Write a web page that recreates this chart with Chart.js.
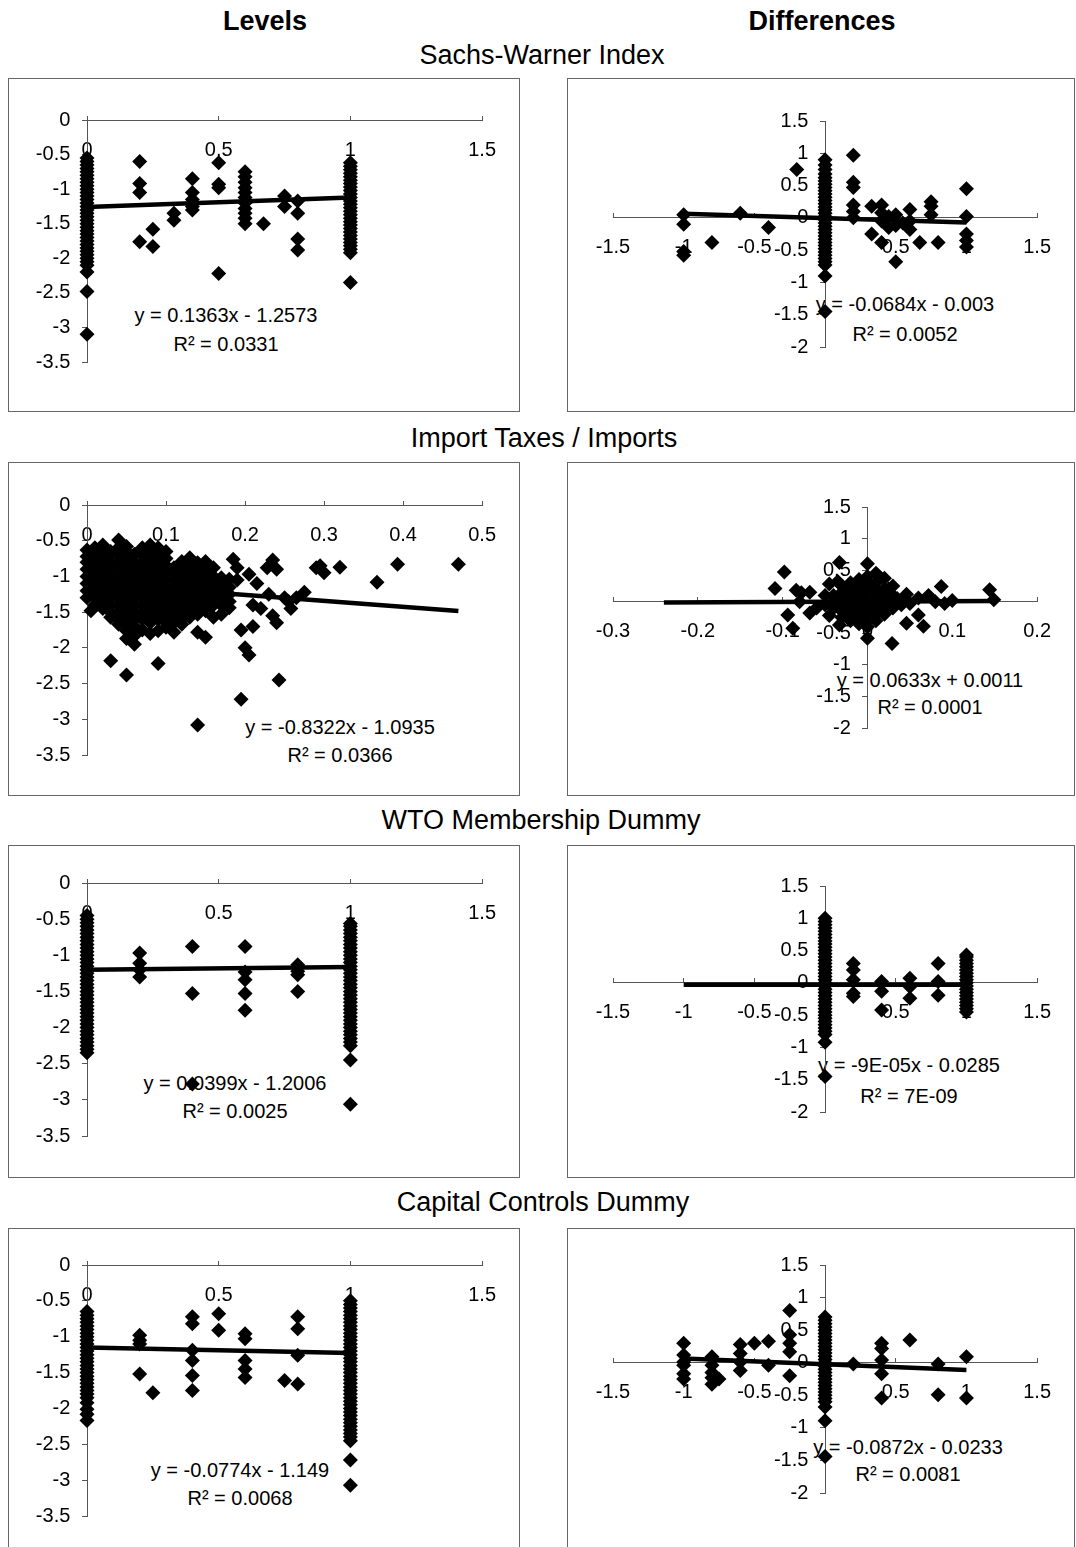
<!DOCTYPE html>
<html>
<head>
<meta charset="utf-8">
<title>Levels and Differences</title>
<script src="https://cdn.jsdelivr.net/npm/chart.js@4.4.0/dist/chart.umd.min.js"></script>
<style>
  html, body { margin: 0; padding: 0; background: #fff; }
  body { width: 1076px; height: 1547px; position: relative; overflow: hidden;
         font-family: "Liberation Sans", Arial, sans-serif; color: #000; }
  .head { position: absolute; font-weight: bold; font-size: 27px; transform: translate(-50%, -50%); white-space: nowrap; }
  .title { position: absolute; font-size: 27px; transform: translate(-50%, -50%); white-space: nowrap; }
  .eq { position: absolute; font-size: 20px; transform: translate(-50%, -50%); white-space: nowrap; }
  .box { position: absolute; border: 1px solid #666; box-sizing: border-box; }
  .box canvas { position: absolute; left: 0; top: 0; }
</style>
</head>
<body>
<script>
// ---- 数据: 每列 [x, [y...]] ----

// Sachs-Warner Index, levels
const swLevelsCols = [
  [0, [-0.55,-0.6,-0.65,-0.7,-0.75,-0.8,-0.85,-0.9,-0.95,-1,-1.05,-1.1,-1.15,-1.2,-1.25,-1.3,-1.35,-1.4,-1.45,-1.5,-1.55,-1.6,-1.65,-1.7,-1.75,-1.8,-1.85,-1.9,-1.95,-2,-2.05,-2.1,-2.2,-2.48,-3.1]],
  [0.2, [-0.6,-0.92,-1.05,-1.76]],
  [0.25, [-1.58,-1.83]],
  [0.33, [-1.35,-1.45]],
  [0.4, [-0.85,-1.05,-1.15,-1.25,-1.3]],
  [0.5, [-0.62,-0.93,-0.98,-2.22]],
  [0.6, [-0.75,-0.82,-0.9,-0.98,-1.05,-1.12,-1.2,-1.28,-1.35,-1.42,-1.5]],
  [0.67, [-1.5]],
  [0.75, [-1.1,-1.25]],
  [0.8, [-1.17,-1.35,-1.72,-1.88]],
  [1, [-0.62,-0.67,-0.72,-0.77,-0.82,-0.87,-0.92,-0.97,-1.02,-1.07,-1.12,-1.17,-1.22,-1.27,-1.32,-1.37,-1.42,-1.47,-1.52,-1.57,-1.62,-1.67,-1.72,-1.77,-1.82,-1.87,-1.92,-2.35]]
];
const swLevelsFit = [0.1363, -1.2573];
const swLevelsRange = [0, 1];

// Sachs-Warner Index, differences
const swDiffCols = [
  [-1, [0.05,-0.1,-0.52,-0.58]],
  [-0.8, [-0.38]],
  [-0.6, [0.07]],
  [-0.4, [-0.15]],
  [-0.2, [0.75]],
  [0, [0.9,0.82,0.75,0.68,0.62,0.57,0.52,0.47,0.42,0.37,0.32,0.27,0.22,0.17,0.12,0.07,0.02,-0.03,-0.08,-0.13,-0.18,-0.23,-0.28,-0.33,-0.38,-0.43,-0.48,-0.53,-0.58,-0.63,-0.68,-0.73,-0.9,-1.45]],
  [0.2, [0.97,0.55,0.47,0.2,0.1,0]],
  [0.33, [0.18,-0.25]],
  [0.4, [0.2,0.08,-0.05,-0.38]],
  [0.45, [0.02,-0.15]],
  [0.5, [0.05,-0.12,-0.68]],
  [0.55, [-0.08]],
  [0.6, [0.13,-0.05,-0.18]],
  [0.67, [-0.38]],
  [0.75, [0.25,0.18,0.05]],
  [0.8, [-0.38]],
  [1, [0.45,0.02,-0.25,-0.35,-0.45]]
];
const swDiffFit = [-0.0684, -0.003];
const swDiffRange = [-1, 1];

// Import Taxes / Imports, levels
const taxLevelsCols = [
  [0, [-0.63,-0.72,-0.8,-0.9,-1,-1.1,-1.2,-1.3]],
  [0.005, [-0.68,-0.85,-1.05,-1.25,-1.48]],
  [0.01, [-0.6,-0.7,-0.8,-0.9,-1,-1.1,-1.2,-1.3,-1.4]],
  [0.02, [-0.56,-0.65,-0.75,-0.85,-0.95,-1.05,-1.15,-1.25,-1.35,-1.45]],
  [0.03, [-0.65,-0.7,-0.8,-0.9,-1,-1.1,-1.2,-1.3,-1.4,-1.5,-1.57,-2.18]],
  [0.04, [-0.49,-0.6,-0.7,-0.8,-0.9,-1,-1.1,-1.2,-1.3,-1.4,-1.5,-1.6,-1.67]],
  [0.05, [-0.58,-0.65,-0.75,-0.85,-0.95,-1.05,-1.15,-1.25,-1.35,-1.45,-1.55,-1.65,-1.76,-1.87,-2.38]],
  [0.06, [-0.69,-0.8,-0.9,-1,-1.1,-1.2,-1.3,-1.4,-1.5,-1.6,-1.7,-1.83,-1.95]],
  [0.07, [-0.6,-0.7,-0.8,-0.9,-1,-1.1,-1.2,-1.3,-1.4,-1.5,-1.6,-1.75]],
  [0.08, [-0.56,-0.65,-0.75,-0.85,-0.95,-1.05,-1.15,-1.25,-1.35,-1.45,-1.55,-1.65,-1.8]],
  [0.09, [-0.6,-0.7,-0.8,-0.9,-1,-1.1,-1.2,-1.3,-1.4,-1.5,-1.6,-1.76,-2.22]],
  [0.1, [-0.65,-0.75,-0.85,-0.95,-1.05,-1.15,-1.25,-1.35,-1.45,-1.55,-1.65,-1.71]],
  [0.11, [-0.88,-0.95,-1.05,-1.15,-1.25,-1.35,-1.45,-1.55,-1.65,-1.78]],
  [0.12, [-0.79,-0.9,-1,-1.1,-1.2,-1.3,-1.4,-1.5,-1.6,-1.67]],
  [0.13, [-0.74,-0.85,-0.95,-1.05,-1.15,-1.25,-1.35,-1.45,-1.57]],
  [0.14, [-0.81,-0.9,-1,-1.1,-1.2,-1.3,-1.4,-1.53,-1.78,-3.08]],
  [0.15, [-0.79,-0.85,-0.95,-1.05,-1.15,-1.25,-1.35,-1.48,-1.85]],
  [0.16, [-0.88,-1,-1.1,-1.2,-1.3,-1.4,-1.57]],
  [0.17, [-1.02,-1.1,-1.2,-1.3,-1.4,-1.53]],
  [0.18, [-1.04,-1.15,-1.25,-1.35,-1.44]]
];
const taxLevelsExtra = [
  [0.185,-0.76],[0.19,-0.88],[0.19,-1.05],[0.195,-1.75],[0.2,-2],[0.205,-2.1],[0.195,-2.72],
  [0.205,-0.97],[0.21,-1.7],[0.215,-1.1],[0.21,-1.4],[0.22,-1.45],[0.228,-0.88],[0.235,-0.77],
  [0.24,-0.9],[0.23,-1.25],[0.235,-1.55],[0.24,-1.65],[0.243,-2.45],[0.25,-1.3],[0.255,-1.35],
  [0.258,-1.45],[0.265,-1.3],[0.275,-1.22],[0.29,-0.88],[0.295,-0.85],[0.3,-0.95],[0.32,-0.87],
  [0.367,-1.08],[0.393,-0.83],[0.47,-0.83]
];
const taxLevelsFit = [-0.8322, -1.0935];
const taxLevelsRange = [0, 0.47];

// Import Taxes / Imports, differences
const taxDiffCols = [
  [-0.04, [-0.1,0,0.1]],
  [-0.03, [-0.25,-0.15,-0.05,0.05,0.15,0.25]],
  [-0.02, [-0.3,-0.2,-0.1,0,0.1,0.2,0.3]],
  [-0.01, [-0.35,-0.25,-0.15,-0.05,0.05,0.15,0.25,0.35]],
  [0, [-0.58,-0.4,-0.3,-0.2,-0.1,0,0.1,0.2,0.3,0.4,0.6]],
  [0.01, [-0.3,-0.2,-0.1,0,0.1,0.2,0.3,0.45]],
  [0.02, [-0.2,-0.1,0,0.1,0.2,0.37]],
  [0.03, [-0.1,0,0.1,0.25]]
];
const taxDiffExtra = [
  [-0.109,0.21],[-0.098,0.47],[-0.084,0.18],[-0.078,0.14],[-0.068,0.15],[-0.094,-0.21],[-0.088,-0.42],
  [-0.068,-0.18],[-0.06,-0.1],[-0.05,0.1],[-0.045,0.28],[-0.035,0.32],[-0.033,0.62],[-0.045,-0.22],
  [-0.033,-0.37],[-0.08,0],[-0.05,-0.05],[0.012,0.42],[0.025,0.2],[0.035,0.05],[0.04,-0.05],
  [0.046,0.12],[0.05,-0.03],[0.06,0.06],[0.029,-0.66],[0.046,-0.34],[0.066,-0.39],[0.06,-0.21],
  [0.072,0.1],[0.087,0.24],[0.091,-0.03],[0.08,0],[0.1,0.02],[0.144,0.19],[0.149,0.03]
];
const taxDiffFit = [0.0633, 0.0011];
const taxDiffRange = [-0.24, 0.15];

// WTO Membership Dummy, levels
const wtoLevelsCols = [
  [0, [-0.45,-0.5,-0.55,-0.6,-0.65,-0.7,-0.75,-0.8,-0.85,-0.9,-0.95,-1,-1.05,-1.1,-1.15,-1.2,-1.25,-1.3,-1.35,-1.4,-1.45,-1.5,-1.55,-1.6,-1.65,-1.7,-1.75,-1.8,-1.85,-1.9,-1.95,-2,-2.05,-2.1,-2.15,-2.2,-2.25,-2.3,-2.35]],
  [0.2, [-0.97,-1.11,-1.2,-1.3]],
  [0.4, [-0.88,-1.53,-2.78]],
  [0.6, [-0.88,-1.23,-1.34,-1.53,-1.76]],
  [0.8, [-1.13,-1.22,-1.27,-1.5]],
  [1, [-0.56,-0.6,-0.65,-0.7,-0.75,-0.8,-0.85,-0.9,-0.95,-1,-1.05,-1.1,-1.15,-1.2,-1.25,-1.3,-1.35,-1.4,-1.45,-1.5,-1.55,-1.6,-1.65,-1.7,-1.75,-1.8,-1.85,-1.9,-1.95,-2,-2.05,-2.1,-2.15,-2.2,-2.25,-2.45,-3.06]]
];
const wtoLevelsFit = [0.0399, -1.2006];
const wtoLevelsRange = [0, 1];

// WTO Membership Dummy, differences
const wtoDiffCols = [
  [0, [1,0.95,0.9,0.85,0.8,0.75,0.7,0.65,0.6,0.55,0.5,0.45,0.4,0.35,0.3,0.25,0.2,0.15,0.1,0.05,0,-0.05,-0.1,-0.15,-0.2,-0.25,-0.3,-0.35,-0.4,-0.45,-0.5,-0.55,-0.6,-0.65,-0.7,-0.75,-0.8,-0.92,-1.45]],
  [0.2, [0.3,0.2,0.05,-0.16,-0.21]],
  [0.4, [0.02,-0.13,-0.42]],
  [0.6, [0.07,-0.06,-0.24]],
  [0.8, [0.3,0.02,-0.19]],
  [1, [0.43,0.4,0.35,0.3,0.25,0.2,0.15,0.1,0.05,0,-0.05,-0.1,-0.15,-0.2,-0.25,-0.3,-0.35,-0.4,-0.45]]
];
const wtoDiffFit = [-0.00009, -0.0285];
const wtoDiffRange = [-1, 1];

// Capital Controls Dummy, levels
const capLevelsCols = [
  [0, [-0.65,-0.7,-0.75,-0.8,-0.85,-0.9,-0.95,-1,-1.05,-1.1,-1.15,-1.2,-1.25,-1.3,-1.35,-1.4,-1.45,-1.5,-1.55,-1.6,-1.65,-1.7,-1.75,-1.8,-1.85,-1.92,-2.01,-2.08,-2.17]],
  [0.2, [-0.98,-1.05,-1.1,-1.52]],
  [0.25, [-1.78]],
  [0.4, [-0.72,-0.82,-1.19,-1.33,-1.54,-1.75]],
  [0.5, [-0.68,-0.91]],
  [0.6, [-0.96,-1.03,-1.33,-1.45,-1.57]],
  [0.75, [-1.61]],
  [0.8, [-0.72,-0.89,-1.26,-1.66]],
  [1, [-0.5,-0.55,-0.6,-0.65,-0.7,-0.75,-0.8,-0.85,-0.9,-0.95,-1,-1.05,-1.1,-1.15,-1.2,-1.25,-1.3,-1.35,-1.4,-1.45,-1.5,-1.55,-1.6,-1.65,-1.7,-1.75,-1.8,-1.85,-1.9,-1.95,-2,-2.05,-2.1,-2.15,-2.2,-2.25,-2.3,-2.35,-2.4,-2.45,-2.72,-3.07]]
];
const capLevelsFit = [-0.0774, -1.149];
const capLevelsRange = [0, 1];

// Capital Controls Dummy, differences
const capDiffCols = [
  [-1, [0.3,0.12,0.01,-0.04,-0.17,-0.25]],
  [-0.8, [0.09,-0.04,-0.15,-0.23,-0.33]],
  [-0.75, [-0.25]],
  [-0.6, [0.28,0.14,0.01,-0.12]],
  [-0.5, [0.3]],
  [-0.4, [0.33,-0.04]],
  [-0.25, [0.8,0.43,0.3,0.17,-0.2]],
  [0, [0.7,0.65,0.6,0.55,0.5,0.45,0.4,0.35,0.3,0.25,0.2,0.15,0.1,0.05,0,-0.05,-0.1,-0.15,-0.2,-0.25,-0.3,-0.35,-0.4,-0.45,-0.5,-0.55,-0.6,-0.68,-0.89,-1.44]],
  [0.2, [-0.02]],
  [0.4, [0.3,0.22,0.04,-0.17,-0.54]],
  [0.6, [0.35]],
  [0.8, [-0.02,-0.49]],
  [1, [0.09,-0.54]]
];
const capDiffFit = [-0.0872, -0.0233];
const capDiffRange = [-1, 1];

// 标题与方程文本
const columnHeads = ['Levels', 'Differences'];
const sectionTitles = ['Sachs-Warner Index', 'Import Taxes / Imports', 'WTO Membership Dummy', 'Capital Controls Dummy'];
const fitEquations = [
  'y = 0.1363x - 1.2573', 'y = -0.0684x - 0.003',
  'y = -0.8322x - 1.0935', 'y = 0.0633x + 0.0011',
  'y = 0.0399x - 1.2006', 'y = -9E-05x - 0.0285',
  'y = -0.0774x - 1.149', 'y = -0.0872x - 0.0233'
];
const fitR2 = ['0.0331', '0.0052', '0.0366', '0.0001', '0.0025', '7E-09', '0.0068', '0.0081'];

// ---- 版面 ----
const FONT = '"Liberation Sans", Arial, sans-serif';
const headPos = [[265, 21], [822, 21]];
const titlePos = [[542, 55], [544, 438], [541, 820], [543, 1202]];

// box: [left, top, width, height]; area: [x0, y0, x1, y1] of the plot area
const panels = [
  { box: [8, 78, 512, 334],    area: [87, 120, 487, 362],   x: [0, 1.5, 0.5],    y: [-3.5, 0, 0.5], cols: swLevelsCols,  extra: [], fit: swLevelsFit,  range: swLevelsRange,  eq: [226, 315, 344] },
  { box: [567, 78, 508, 334],  area: [613, 121, 1055, 347], x: [-1.5, 1.5, 0.5], y: [-2, 1.5, 0.5],  cols: swDiffCols,    extra: [], fit: swDiffFit,    range: swDiffRange,    eq: [905, 304, 334] },
  { box: [8, 462, 512, 334],   area: [87, 505, 487, 755],   x: [0, 0.5, 0.1],    y: [-3.5, 0, 0.5], cols: taxLevelsCols, extra: taxLevelsExtra, fit: taxLevelsFit, range: taxLevelsRange, eq: [340, 727, 755] },
  { box: [567, 462, 508, 334], area: [613, 507, 1055, 728], x: [-0.3, 0.2, 0.1], y: [-2, 1.5, 0.5],  cols: taxDiffCols,   extra: taxDiffExtra,   fit: taxDiffFit,   range: taxDiffRange,   eq: [930, 680, 707] },
  { box: [8, 845, 512, 333],   area: [87, 883, 487, 1136],  x: [0, 1.5, 0.5],    y: [-3.5, 0, 0.5], cols: wtoLevelsCols, extra: [], fit: wtoLevelsFit, range: wtoLevelsRange, eq: [235, 1083, 1111] },
  { box: [567, 845, 508, 333], area: [613, 886, 1055, 1112],x: [-1.5, 1.5, 0.5], y: [-2, 1.5, 0.5],  cols: wtoDiffCols,   extra: [], fit: wtoDiffFit,   range: wtoDiffRange,   eq: [909, 1065, 1096] },
  { box: [8, 1228, 512, 334],  area: [87, 1265, 487, 1516], x: [0, 1.5, 0.5],    y: [-3.5, 0, 0.5], cols: capLevelsCols, extra: [], fit: capLevelsFit, range: capLevelsRange, eq: [240, 1470, 1498] },
  { box: [567, 1228, 508, 334],area: [613, 1265, 1055, 1493],x: [-1.5, 1.5, 0.5], y: [-2, 1.5, 0.5], cols: capDiffCols,   extra: [], fit: capDiffFit,   range: capDiffRange,   eq: [908, 1447, 1474] }
];

function addText(cls, text, x, y) {
  const el = document.createElement('div');
  el.className = cls;
  el.textContent = text;
  el.style.left = x + 'px';
  el.style.top = y + 'px';
  document.body.appendChild(el);
}

function toPoints(cols, extra) {
  const pts = [];
  cols.forEach(([x, ys]) => ys.forEach(y => pts.push({ x: x, y: y })));
  extra.forEach(([x, y]) => pts.push({ x: x, y: y }));
  return pts;
}

function fmt(v) {
  return String(Math.round(v * 10) / 10);
}

function axisOpts(range, at, isX) {
  return {
    type: 'linear',
    min: range[0],
    max: range[1],
    position: isX ? { y: at } : { x: at },
    border: { color: '#555', width: 1 },
    grid: { drawOnChartArea: false, drawTicks: true, tickLength: isX ? -5 : 5, color: '#555' },
    ticks: {
      stepSize: range[2],
      autoSkip: false,
      maxRotation: 0,
      padding: isX ? 23 : 0,
      color: '#000',
      font: { family: FONT, size: 20 },
      // y 轴标签贴着轴线, 用空格留出间距
      callback: isX ? (v => fmt(v)) : (v => fmt(v) + '   ')
    }
  };
}

function drawPanel(p, i) {
  const [eqX, eqY, r2Y] = p.eq;
  addText('eq', fitEquations[i], eqX, eqY);
  addText('eq', 'R\u00B2 = ' + fitR2[i], eqX, r2Y);

  const [bx, by, bw, bh] = p.box;
  const [ax0, ay0, ax1, ay1] = p.area;
  const box = document.createElement('div');
  box.className = 'box';
  box.style.left = bx + 'px';
  box.style.top = by + 'px';
  box.style.width = bw + 'px';
  box.style.height = bh + 'px';
  const cw = bw - 2, ch = bh - 2;
  const canvas = document.createElement('canvas');
  canvas.width = cw;
  canvas.height = ch;
  canvas.style.width = cw + 'px';
  canvas.style.height = ch + 'px';
  box.appendChild(canvas);
  document.body.appendChild(box);

  const [m, b] = p.fit;
  const trend = p.range.map(x => ({ x: x, y: m * x + b }));

  new Chart(canvas.getContext('2d'), {
    type: 'scatter',
    data: {
      datasets: [
        {
          data: toPoints(p.cols, p.extra),
          pointStyle: 'rectRot',
          pointRadius: 7.5,
          pointBackgroundColor: '#000',
          pointBorderWidth: 0,
          clip: false,
          order: 2
        },
        {
          data: trend,
          showLine: true,
          borderColor: '#000',
          borderWidth: 4.5,
          pointRadius: 0,
          clip: false,
          order: 1
        }
      ]
    },
    options: {
      responsive: false,
      animation: false,
      events: [],
      layout: {
        padding: {
          left: ax0 - (bx + 1),
          right: (bx + bw - 1) - ax1,
          top: ay0 - (by + 1),
          bottom: (by + bh - 1) - ay1
        }
      },
      plugins: { legend: { display: false }, tooltip: { enabled: false } },
      scales: {
        x: axisOpts(p.x, 0, true),
        y: axisOpts(p.y, 0, false)
      }
    }
  });
}

columnHeads.forEach((t, i) => addText('head', t, headPos[i][0], headPos[i][1]));
sectionTitles.forEach((t, i) => addText('title', t, titlePos[i][0], titlePos[i][1]));
panels.forEach(drawPanel);
</script>
</body>
</html>
